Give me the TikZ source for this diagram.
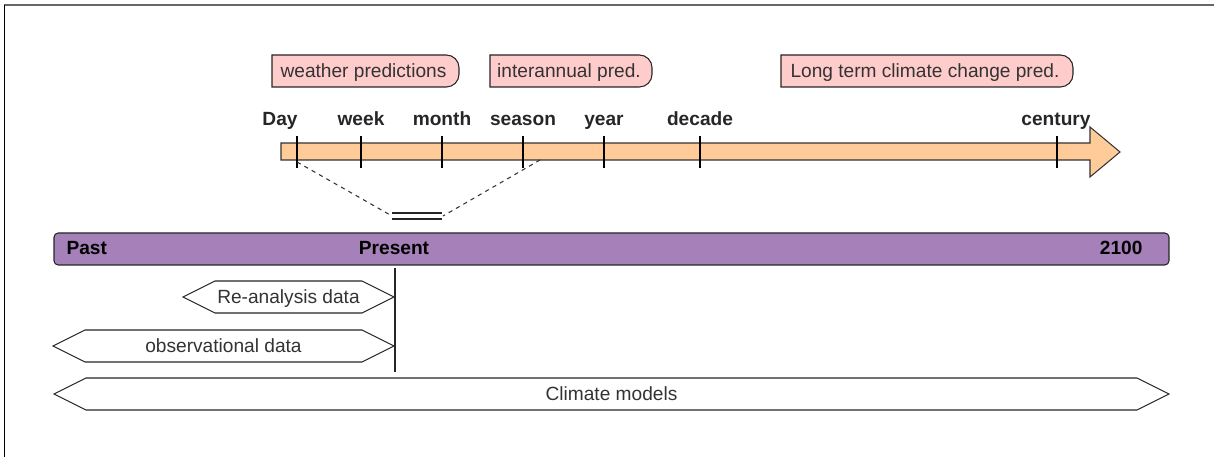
\documentclass[tikz,border=0pt]{standalone}
\usepackage{fontspec}
\setmainfont{Liberation Sans}
\definecolor{predfill}{HTML}{FFCCCC}
\definecolor{scalefill}{HTML}{FFCC99}
\definecolor{erafill}{HTML}{A680B8}
\definecolor{textgray}{HTML}{333333}
\begin{document}
\begin{tikzpicture}[x = 0.025cm, y = -0.025cm, line width = 0.75pt, font = \fontsize{13.6}{16}\selectfont, every node/.style = {text height = 0.95em, text depth = 0.05em}]
\useasboundingbox (0,0) rectangle (1214,457);
% frame
\draw [draw = black!60, line width = 1.2pt] (4,5) -- (1214,5);
\draw [draw = black, line width = 1.2pt] (4.5,5) -- (4.5,457);
% prediction boxes
\foreach \l/\r/\n/\txt in {272/459/weather/weather predictions, 490/652/inter/interannual pred., 781/1073/long/Long term climate change pred.}
{
\draw [fill = predfill, draw = black!85] (\l,87) -- (\l,55) [rounded corners = 9pt] -- (\r,55) -- (\r,87) [sharp corners] -- cycle;
\node [text = textgray] (pred\n) at ({(\l+\r)/2-2},71) {\txt};
}
% time scale arrow
\draw [fill = scalefill, draw = black!80] (281,143) -- (1090,143) -- (1090,127) -- (1120,152) -- (1090,177) -- (1090,160) -- (281,160) -- cycle;
\foreach \tx/\lx/\n/\txt in {297/280/day/Day, 361/361/week/week, 442/442/month/month, 523/523/season/season, 604/604/year/year, 700/700/decade/decade, 1057/1056/century/century}
{
\draw [draw = black] (\tx,136) -- (\tx,168);
\coordinate (tick\n) at (\tx,162);
\node [font = \fontsize{13.6}{16}\selectfont\bfseries, text = black!85] (lbl\n) at (\lx,119) {\txt};
}
% zoom onto the present
\coordinate (seasonEnd) at (540,160);
\coordinate (zoomL) at (392,216);
\coordinate (zoomR) at (443,216);
\draw [dashed, draw = black!80] (tickday) -- (zoomL);
\draw [dashed, draw = black!80] (seasonEnd) -- (zoomR);
\draw [draw = black!85] (392,213) -- (442,213);
\draw [draw = black!85] (392,219) -- (442,219);
% era bar
\draw [fill = erafill, draw = black!85, rounded corners = 3pt] (54,233) rectangle (1169,265);
\node [font = \fontsize{13.6}{16}\selectfont\bfseries, anchor = west, inner xsep = 0pt] (past) at (66,248) {Past};
\node [font = \fontsize{13.6}{16}\selectfont\bfseries] (present) at (394,248) {Present};
\node [font = \fontsize{13.6}{16}\selectfont\bfseries, anchor = east, inner xsep = 0pt] (future) at (1143,248) {2100};
\coordinate (nowTop) at (395,268);
\coordinate (nowBot) at (395,372);
\draw [draw = black!85] (nowTop) -- (nowBot);
% data sources
\foreach \l/\r/\t/\n/\txt in {183/394/281/reana/Re-analysis data, 53/394/330/obs/observational data, 54/1169/378/models/Climate models}
{
\draw [fill = white, draw = black!85] (\l,\t+16) -- (\l+32,\t) -- (\r-32,\t) -- (\r,\t+16) -- (\r-32,\t+32) -- (\l+32,\t+32) -- cycle;
\node [text = textgray] (data\n) at ({(\l+\r)/2},\t+16) {\txt};
}
\end{tikzpicture}
\end{document}
